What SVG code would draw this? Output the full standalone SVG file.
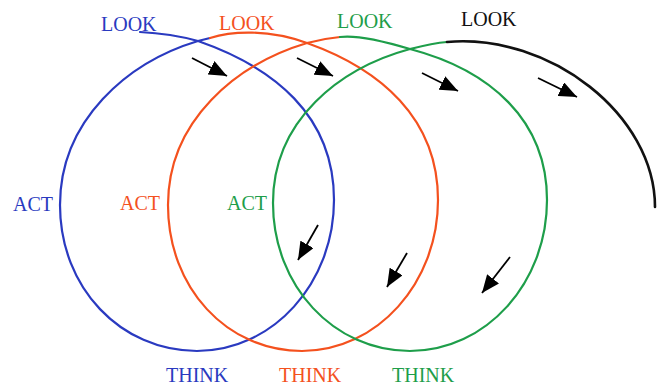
<svg xmlns="http://www.w3.org/2000/svg" width="659" height="385" viewBox="0 0 659 385">
<style>
.loop{fill:none;stroke-width:2.2;stroke-linecap:round;stroke-linejoin:round}
.blue{stroke:#2a3ac0}
.orange{stroke:#f4511e}
.green{stroke:#1e9e4a}
.black{stroke:#111111;stroke-width:2.6}
text{font-family:"Liberation Serif","Times New Roman",serif;font-size:20px}
.tb{fill:#2a3ac0}
.to{fill:#f4511e}
.tg{fill:#1e9e4a}
.tk{fill:#111111}
.arrow{stroke:#000;stroke-width:1.8;fill:none;marker-end:url(#head)}
</style>
<defs>
<marker id="head" markerUnits="userSpaceOnUse" markerWidth="19" markerHeight="15" refX="18" refY="7.5" orient="auto">
<path d="M0,0 L18,7.5 L0,15 z" fill="#000"/>
</marker>
</defs>
<rect width="659" height="385" fill="#fff"/>
<g id="loop-blue">
<path class="loop blue" d="M140,32 C160,33 180,36 198,41 C273,67 334,115 334,200 C334,283 273,351 197,351 C121,351 60,288 60,205 C60,120 128,62 198,41 C202,40 206,39 210,38"/>
<text class="tb" x="101" y="31">LOOK</text>
<text class="tb" x="13" y="211">ACT</text>
<text class="tb" x="166" y="382">THINK</text>
</g>
<g id="loop-orange">
<path class="loop orange" d="M210,38 C232,31 268,29 307,43 C380,69 438,118 438,200 C438,283 377,351 302,351 C227,351 168,288 168,205 C168,120 237,64 307,43 C318,40 329,38 340,37"/>
<text class="to" x="219" y="30">LOOK</text>
<text class="to" x="120" y="210">ACT</text>
<text class="to" x="279" y="382">THINK</text>
</g>
<g id="loop-green">
<path class="loop green" d="M340,37 C355,35 380,40 410,49 C490,70 547,120 547,200 C547,283 486,351 410,351 C334,351 273,286 273,203 C273,120 340,68 410,49 C422,46 435,43 447,42"/>
<text class="tg" x="337" y="28">LOOK</text>
<text class="tg" x="227" y="210">ACT</text>
<text class="tg" x="392" y="382">THINK</text>
</g>
<g id="loop-black">
<path class="loop black" d="M447,42 C550,33 655,115 655,207"/>
<text class="tk" x="461" y="26">LOOK</text>
</g>
<g id="connectors">
<path class="arrow" d="M192,58 L227,76"/>
<path class="arrow" d="M297,58 L333,76"/>
<path class="arrow" d="M422,73 L458,91"/>
<path class="arrow" d="M538,78 L577,97"/>
<path class="arrow" d="M318,225 L298,260"/>
<path class="arrow" d="M407,253 L387,287"/>
<path class="arrow" d="M510,257 L482,293"/>
</g>
</svg>
